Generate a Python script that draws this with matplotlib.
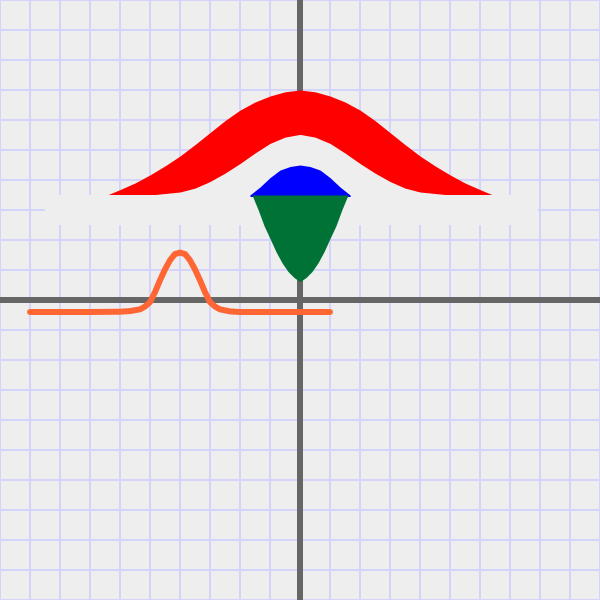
"""Graph-paper sketch: gaussian bumps (red band, blue cap, green drop) and an orange pulse."""
import matplotlib
matplotlib.use("Agg")
import matplotlib.pyplot as plt
import matplotlib.patches as mpatches

BG = "#eeeeee"
GRID = "#d4d4fa"
AXIS = "#666666"

# grid units: 1 unit = one grid square, origin at the centre
grid_ticks = list(range(-10, 11))

# red band: outer curve and the inner (hollow) curve, both sitting on y = 3.5
red_outer_x = [-6.43, -6, -5.5, -5, -4.5, -4, -3.5, -3, -2.5, -2, -1.5, -1, -0.5, 0,
               0.5, 1, 1.5, 2, 2.5, 3, 3.5, 4, 4.5, 5, 5.5, 6, 6.43]
red_outer_y = [3.5, 3.68, 3.90, 4.17, 4.47, 4.80, 5.18, 5.58, 5.98, 6.33, 6.60, 6.80, 6.94, 7.0,
               6.94, 6.80, 6.60, 6.33, 5.98, 5.58, 5.18, 4.80, 4.47, 4.17, 3.90, 3.68, 3.5]
red_inner_x = [-5, -4.5, -4, -3.5, -3, -2.5, -2, -1.5, -1, -0.5, 0,
               0.5, 1, 1.5, 2, 2.5, 3, 3.5, 4, 4.5, 5]
red_inner_y = [3.5, 3.55, 3.60, 3.73, 3.95, 4.23, 4.55, 4.90, 5.22, 5.43, 5.52,
               5.43, 5.22, 4.90, 4.55, 4.23, 3.95, 3.73, 3.60, 3.55, 3.5]
band_base = 3.5

# blue cap above the base, green drop below it
blue_x = [-1.67, -1.33, -1, -0.67, -0.33, 0, 0.33, 0.67, 1, 1.33, 1.67]
blue_y = [3.5, 3.77, 4.08, 4.33, 4.45, 4.5, 4.45, 4.33, 4.08, 3.77, 3.5]
green_x = [-1.6, -1.4, -1.2, -1.0, -0.8, -0.6, -0.4, -0.2, 0,
           0.2, 0.4, 0.6, 0.8, 1.0, 1.2, 1.4, 1.6]
green_y = [3.5, 3.02, 2.48, 2.05, 1.61, 1.24, 0.95, 0.75, 0.61,
           0.75, 0.95, 1.24, 1.61, 2.05, 2.48, 3.02, 3.5]

# blank strip across the paper under the shapes
strip_x = (-8.5, 7.93)
strip_y = (2.5, 3.5)

# orange pulse
pulse_x = [-9, -8, -7, -6, -5.67, -5.33, -5.17, -5, -4.83, -4.67, -4.5, -4.33, -4.17, -4,
           -3.83, -3.67, -3.5, -3.33, -3.17, -3, -2.83, -2.67, -2.33, -2, -1, 0, 1]
pulse_y = [-0.4, -0.4, -0.4, -0.39, -0.37, -0.31, -0.22, -0.07, 0.27, 0.65, 1.02, 1.33, 1.53, 1.58,
           1.53, 1.33, 1.02, 0.65, 0.27, -0.07, -0.22, -0.31, -0.38, -0.4, -0.4, -0.4, -0.4]

PX = 72 / 100  # points per pixel at dpi 100
OVER = 0.05    # small overlap so neighbouring fills leave no seam

fig = plt.figure(figsize=(6, 6), dpi=100, facecolor=BG)
ax = fig.add_axes([0, 0, 1, 1])
ax.set_facecolor(BG)
ax.set_xlim(-10, 10)
ax.set_ylim(-10, 10)
for s in ax.spines.values():
    s.set_visible(False)
ax.set_xticks([])
ax.set_yticks([])

for t in grid_ticks:
    ax.axvline(t, color=GRID, lw=2 * PX, zorder=1)
    ax.axhline(t, color=GRID, lw=2 * PX, zorder=1)

ax.axvline(0, color=AXIS, lw=6 * PX, zorder=2)
ax.axhline(0, color=AXIS, lw=6 * PX, zorder=2)

# red band = red bump with a background-coloured bump cut out of it
ax.fill_between(red_outer_x, band_base - OVER, red_outer_y, color="#ff0000", lw=0, zorder=3)
ax.fill_between(red_inner_x, band_base - OVER, red_inner_y, color=BG, lw=0, zorder=4)

ax.add_patch(mpatches.Rectangle((strip_x[0], strip_y[0]), strip_x[1] - strip_x[0],
                                strip_y[1] - strip_y[0], facecolor=BG, edgecolor="none",
                                zorder=5))

ax.fill_between(blue_x, band_base - OVER, blue_y, color="#0000ff", lw=0, zorder=6)
ax.fill_between(green_x, green_y, band_base, color="#007236", lw=0, zorder=7)

ax.plot(pulse_x, pulse_y, color="#ff6633", lw=6 * PX, solid_capstyle="round",
        solid_joinstyle="round", zorder=8)

fig.savefig("out.png", dpi=100, facecolor=BG)
plt.close(fig)
